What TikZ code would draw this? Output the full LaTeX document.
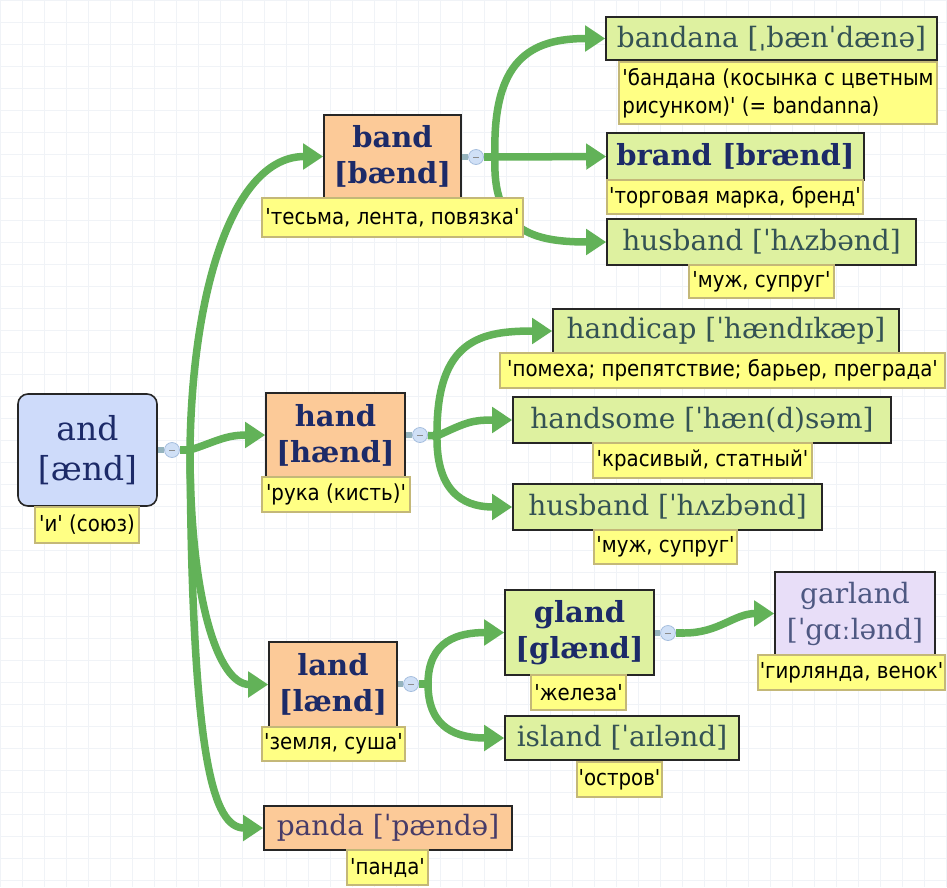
\documentclass[tikz,border=0pt]{standalone}
\usepackage{fontspec}
\newfontfamily\wordfont{DejaVu Serif}
\newfontfamily\glossfont{DejaVu Sans}[FakeStretch=0.9]
\usetikzlibrary{arrows.meta}

\definecolor{branch}{RGB}{98,178,88}
\definecolor{stubline}{RGB}{150,180,190}
\definecolor{peach}{RGB}{252,202,152}
\definecolor{lime}{RGB}{222,241,160}
\definecolor{lilac}{RGB}{232,222,248}
\definecolor{sky}{RGB}{206,219,250}
\definecolor{gloss}{RGB}{255,255,132}
\definecolor{glossedge}{RGB}{196,184,120}
\definecolor{navy}{RGB}{28,42,104}
\definecolor{slate}{RGB}{52,82,84}
\definecolor{dusk}{RGB}{78,88,130}
\definecolor{plum}{RGB}{72,60,104}
\definecolor{gridline}{RGB}{240,243,247}
\definecolor{knobfill}{RGB}{208,224,246}
\definecolor{knobedge}{RGB}{165,190,222}

\pgfdeclarelayer{paper}
\pgfdeclarelayer{links}
\pgfsetlayers{paper,links,main}

\tikzset{
  word/.style={draw=black!85, line width=1.6pt, inner sep=0pt, align=center,
    text=slate, font=\wordfont\fontsize{28}{36}\selectfont},
  head/.style={word, text=navy, font=\wordfont\bfseries\fontsize{29}{36}\selectfont},
  lead/.style={word, text=navy, font=\wordfont\fontsize{33}{40}\selectfont},
  note/.style={draw=glossedge, fill=gloss, line width=1.2pt, inner sep=0pt,
    text=black, font=\glossfont\fontsize{22}{28}\selectfont},
  box/.style 2 args={minimum width=#1pt, minimum height=#2pt},
  knob/.style={circle, draw=knobedge, fill=knobfill, minimum size=15pt,
    inner sep=0pt, line width=0.8pt,
    path picture={\draw[black!45, line width=0.8pt] ([xshift=-3pt]path picture bounding box.center) -- ([xshift=3pt]path picture bounding box.center);}},
  link/.style={draw=branch, line width=7.5pt, -{Triangle[length=20pt,width=25pt]}},
  trunk/.style={draw=branch, line width=7.5pt},
  stub/.style={draw=stubline, line width=6pt},
}

\begin{document}
\begin{tikzpicture}[x=1pt, y=-1pt]
\useasboundingbox (0,0) rectangle (947,887);

% paper with faint grid
\begin{pgfonlayer}{paper}
  \fill[white] (0,0) rectangle (947,887);
  \draw[gridline, line width=0.8pt, step=22pt] (0,0) grid (947,887);
\end{pgfonlayer}

% root
\node[lead, fill=sky, rounded corners=10pt, box={139}{112}] (and) at (87.5,450) {and\\{}[ænd]};

% first level
\node[head, fill=peach, box={137}{83}] (band) at (392.5,156.5) {band\\{}[bænd]};
\node[head, fill=peach, box={139}{84}] (hand) at (335.5,435) {hand\\{}[hænd]};
\node[head, fill=peach, box={128}{85}] (land) at (333,684.5) {land\\{}[lænd]};
\node[word, fill=peach, text=plum, box={248}{44}] (panda) at (388,828) {panda [ˈpændə]};

% under band
\node[word, fill=lime, box={331}{43}] (bandana) at (771.5,38.5) {bandana [ˌbænˈdænə]};
\node[head, fill=lime, box={257}{47}] (brand) at (735.5,156.5) {brand [brænd]};
\node[word, fill=lime, box={309}{46}] (husbA) at (761.5,242) {husband [ˈhʌzbənd]};

% under hand
\node[word, fill=lime, box={346}{44}] (handicap) at (726,331) {handicap [ˈhændɪkæp]};
\node[word, fill=lime, box={378}{46}] (handsome) at (702,420) {handsome [ˈhæn(d)səm]};
\node[word, fill=lime, box={309}{46}] (husbB) at (667.5,507) {husband [ˈhʌzbənd]};

% under land
\node[head, fill=lime, box={149}{85}] (gland) at (579.5,632.5) {gland\\{}[glænd]};
\node[word, fill=lime, box={234}{44}] (island) at (622,738) {island [ˈaɪlənd]};
\node[word, fill=lilac, text=dusk, box={160}{83}] (garland) at (855,613.5) {garland\\{}[ˈgɑːlənd]};

% collapse knobs and junctions
\node[knob] (kAnd) at (172,450) {};
\node[knob] (kBand) at (476,157) {};
\node[knob] (kHand) at (420,435) {};
\node[knob] (kLand) at (411,684) {};
\node[knob] (kGland) at (668,633) {};
\coordinate (jAnd) at (190,450);
\coordinate (jBand) at (495,157);
\coordinate (jHand) at (437,436);
\coordinate (jLand) at (428,684);
\coordinate (jGland) at (684,633);

% connectors
\begin{pgfonlayer}{links}
  \draw[stub] (and.east |- kAnd) -- (kAnd);
  \draw[stub] (band.east |- kBand) -- (kBand);
  \draw[stub] (hand.east |- kHand) -- (kHand);
  \draw[stub] (land.east |- kLand) -- (kLand);
  \draw[stub] (gland.east |- kGland) -- (kGland);

  \draw[trunk] (kAnd) -- (jAnd);
  \draw[link] (jAnd) .. controls +(2,-160) and +(-90,0) .. (band.west);
  \draw[link] (jAnd) .. controls +(25,-8) and +(-40,0) .. (hand.west);
  \draw[link] (jAnd) .. controls +(0,150) and +(-50,0) .. (land.west);
  \draw[link] (jAnd) .. controls +(2,310) and +(-50,0) .. (panda.west);

  \draw[trunk] (kBand) -- (jBand);
  \draw[link] (jBand) .. controls +(-3,-97) and +(-75,0) .. (bandana.west);
  \draw[link] (jBand) -- (brand.west);
  \draw[link] (jBand) .. controls +(-3,73) and +(-75,0) .. (husbA.west);

  \draw[trunk] (kHand) -- (jHand);
  \draw[link] (jHand) .. controls +(-1,-97) and +(-71,0) .. (handicap.west);
  \draw[link] (jHand) .. controls +(30,-14) and +(-40,0) .. (handsome.west);
  \draw[link] (jHand) .. controls +(-1,63) and +(-41,0) .. (husbB.west);

  \draw[trunk] (kLand) -- (jLand);
  \draw[link] (jLand) .. controls +(0,-44) and +(-45,0) .. (gland.west);
  \draw[link] (jLand) .. controls +(0,46) and +(-45,0) .. (island.west);

  \draw[trunk] (kGland) -- (jGland);
  \draw[link] (jGland) .. controls +(35,0) and +(-40,0) .. (garland.west);
\end{pgfonlayer}

% glosses
\node[note, box={104}{36}] (andG) at (87,525) {'и' (союз)};
\node[note, box={261}{39}] (bandG) at (392.5,217.5) {'тесьма, лента, повязка'};
\node[note, box={148}{35}] (handG) at (336,494.5) {'рука (кисть)'};
\node[note, box={143}{34}] (landG) at (333.5,744) {'земля, суша'};
\node[note, box={81}{35}] (pandaG) at (387.5,867.5) {'панда'};
\node[note, box={318}{62}, align=left] (bandanaG) at (778,93) {'бандана (косынка с цветным\\рисунком)' (= bandanna)};
\node[note, box={256}{34}] (brandG) at (735,197) {'торговая марка, бренд'};
\node[note, box={145}{33}] (husbAG) at (761.5,281.5) {'муж, супруг'};
\node[note, box={445}{35}] (handicapG) at (722.5,370.5) {'помеха; препятствие; барьер, преграда'};
\node[note, box={219}{35}] (handsomeG) at (702.5,460.5) {'красивый, статный'};
\node[note, box={143}{34}] (husbBG) at (665.5,547) {'муж, супруг'};
\node[note, box={95}{35}] (glandG) at (578.5,692.5) {'железа'};
\node[note, box={85}{35}] (islandG) at (619.5,779.5) {'остров'};
\node[note, box={187}{35}] (garlandG) at (851.5,672.5) {'гирлянда, венок'};
\end{tikzpicture}
\end{document}
